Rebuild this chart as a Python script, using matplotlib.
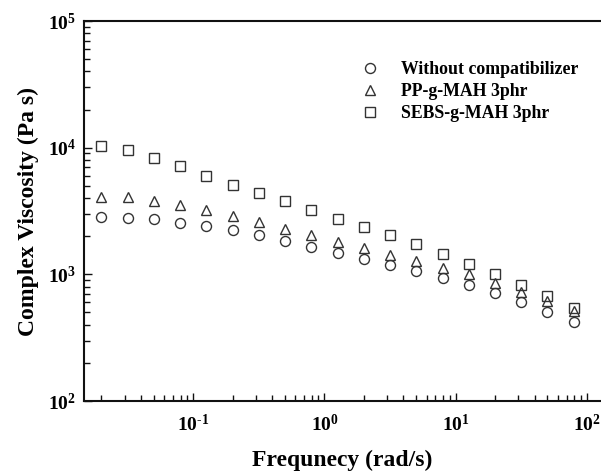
import matplotlib
matplotlib.use("Agg")
import matplotlib.pyplot as plt
import numpy as np
from matplotlib.ticker import LogLocator, NullFormatter, FuncFormatter

plt.rcParams['font.family'] = ['Liberation Serif', 'DejaVu Serif']
plt.rcParams['font.weight'] = 'bold'
plt.rcParams['mathtext.fontset'] = 'custom'
plt.rcParams['mathtext.rm'] = 'Liberation Serif:bold'
plt.rcParams['mathtext.it'] = 'Liberation Serif:bold:italic'
plt.rcParams['mathtext.bf'] = 'Liberation Serif:bold'
plt.rcParams['mathtext.default'] = 'regular'
plt.rcParams['axes.unicode_minus'] = False

frequency = [0.02, 0.0316, 0.05, 0.0794, 0.126, 0.2, 0.316, 0.5, 0.794, 1.26,
             2.0, 3.16, 5.0, 7.94, 12.6, 20.0, 31.6, 50.0, 79.4]
without_comp = [2850, 2785, 2735, 2555, 2410, 2240, 2045, 1823, 1653, 1487,
                1333, 1191, 1062, 944, 818, 708, 601, 506, 419]
pp_g_mah = [4100, 4080, 3810, 3530, 3220, 2890, 2580, 2300, 2030, 1800,
            1605, 1420, 1275, 1128, 1000, 849, 721, 616, 516]
sebs_g_mah = [10300, 9520, 8360, 7160, 6020, 5110, 4360, 3760, 3220, 2750,
              2380, 2030, 1730, 1450, 1215, 1005, 828, 671, 540]
labels = ['Without compatibilizer', 'PP-g-MAH 3phr', 'SEBS-g-MAH 3phr']

fig = plt.figure(figsize=(6.01, 4.72), dpi=100)
ax = fig.add_axes([0.1398, 0.1504, 0.8602, 0.8051])

mc = '#333333'
ms = 7.2
mew = 1.0
ax.plot(frequency, without_comp, linestyle='none', marker='o', ms=ms, mfc='none', mec=mc, mew=mew, label=labels[0])
ax.plot(frequency, pp_g_mah, linestyle='none', marker='^', ms=ms + 0.6, mfc='none', mec=mc, mew=mew, label=labels[1])
ax.plot(frequency, sebs_g_mah, linestyle='none', marker='s', ms=ms - 0.6, mfc='none', mec=mc, mew=mew, label=labels[2])

ax.set_xscale('log')
ax.set_yscale('log')
ax.set_xlim(0.01472, 128)
ax.set_ylim(100, 1e5)


def pow_fmt(v, pos):
    e = int(round(np.log10(v)))
    if e < 0:
        return r'$10^{\text{-}%d}$' % (-e)
    return r'$10^{%d}$' % e


ax.xaxis.set_major_locator(LogLocator(base=10, numticks=10))
ax.xaxis.set_major_formatter(FuncFormatter(pow_fmt))
ax.yaxis.set_major_formatter(FuncFormatter(pow_fmt))
ax.xaxis.set_minor_locator(LogLocator(base=10, subs=range(2, 10), numticks=20))
ax.xaxis.set_minor_formatter(NullFormatter())
ax.yaxis.set_minor_locator(LogLocator(base=10, subs=range(2, 10), numticks=20))
ax.yaxis.set_minor_formatter(NullFormatter())

for s in ['left', 'bottom', 'top']:
    ax.spines[s].set_linewidth(1.5)
    ax.spines[s].set_color('#111111')
ax.spines['right'].set_visible(False)

ax.tick_params(which='both', direction='in', top=False, right=False, color='#111111')
ax.tick_params(which='major', length=6, width=1.0, labelsize=14)
ax.tick_params(axis='x', which='major', pad=9)
ax.tick_params(axis='y', which='major', pad=6)
ax.tick_params(which='minor', length=4, width=1.0)

ax.set_xlabel('Frequnecy (rad/s)', fontsize=17, fontweight='bold', labelpad=11)
ax.set_ylabel('Complex Viscosity (Pa s)', fontsize=17, fontweight='bold', labelpad=6)

leg = ax.legend(loc='upper left', bbox_to_anchor=(0.5155, 0.914), frameon=False,
                prop={'family': 'Liberation Serif', 'weight': 'bold', 'size': 12.8},
                handletextpad=1.02, labelspacing=0.3, borderaxespad=0, handlelength=1.4)

fig.savefig('out.png', dpi=100)
